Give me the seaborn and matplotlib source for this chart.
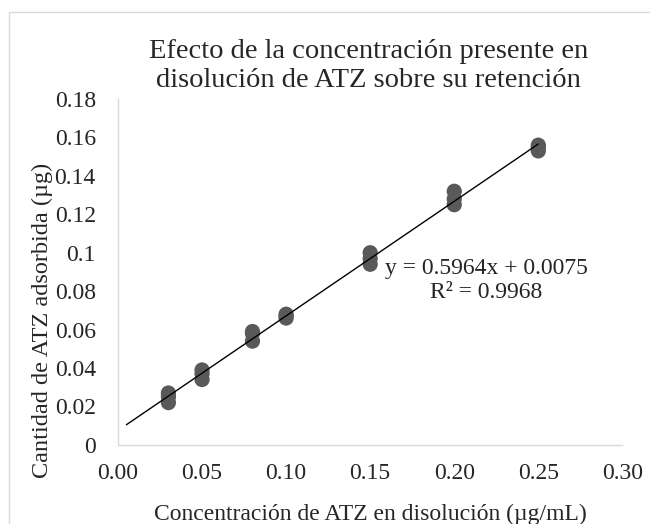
import matplotlib
matplotlib.use("Agg")
import matplotlib.pyplot as plt
import seaborn as sns
import numpy as np
import pandas as pd

# data
conc = [0.03, 0.03, 0.03, 0.05, 0.05, 0.05, 0.08, 0.08, 0.08,
        0.10, 0.10, 0.10, 0.15, 0.15, 0.15, 0.20, 0.20, 0.20,
        0.25, 0.25, 0.25]
adsorbed = [0.022, 0.025, 0.027, 0.034, 0.037, 0.039, 0.054, 0.058, 0.059,
            0.066, 0.067, 0.068, 0.094, 0.097, 0.100, 0.125, 0.128, 0.132,
            0.153, 0.155, 0.156]
slope = 0.5964
intercept = 0.0075
r2 = 0.9968
trend_x = [0.005, 0.25]

x_ticks = [0.00, 0.05, 0.10, 0.15, 0.20, 0.25, 0.30]
y_ticks = [0, 0.02, 0.04, 0.06, 0.08, 0.1, 0.12, 0.14, 0.16, 0.18]
y_tick_labels = ["0", "0.02", "0.04", "0.06", "0.08", "0.1", "0.12", "0.14", "0.16", "0.18"]

df = pd.DataFrame({"x": conc, "y": adsorbed})

sns.set_theme(style="white")
plt.rcParams["font.family"] = ["Liberation Serif", "DejaVu Serif"]

fig = plt.figure(figsize=(6.5, 5.24), dpi=100)
ax = fig.add_axes([0.1815, 0.151, 0.776, 0.66])

sns.scatterplot(data=df, x="x", y="y", ax=ax, s=120, color="#595959",
                edgecolor="none", zorder=3)

tx = np.array(trend_x)
ax.plot(tx, slope * tx + intercept, color="black", lw=1, zorder=4)

ax.text(0.219, 0.0855, f"y = {slope}x + {intercept}\nR² = {r2}",
        ha="center", va="center", fontsize=17, linespacing=1.15)

ax.set_xlim(0, 0.30)
ax.set_ylim(0, 0.18)
ax.set_xticks(x_ticks)
ax.set_xticklabels([f"{v:.2f}" for v in x_ticks])
ax.set_yticks(y_ticks)
ax.set_yticklabels(y_tick_labels)
ax.tick_params(axis="both", labelsize=17, length=0)
ax.tick_params(axis="x", pad=13)
ax.tick_params(axis="y", pad=16)

for side in ["top", "right"]:
    ax.spines[side].set_visible(False)
for side in ["left", "bottom"]:
    ax.spines[side].set_color("#d9d9d9")
    ax.spines[side].set_linewidth(1)

ax.set_xlabel("Concentración de ATZ en disolución (µg/mL)", fontsize=17)
ax.xaxis.set_label_coords(0.5, -0.17)
ax.set_ylabel("Cantidad de ATZ adsorbida (µg)", fontsize=17.5)
ax.yaxis.set_label_coords(-0.128, 0.361)

fig.text(0.567, 0.874, "Efecto de la concentración presente en\ndisolución de ATZ sobre su retención",
         ha="center", va="center", fontsize=20.5, linespacing=1.22)

fig.patches.append(plt.Rectangle((0.014, -0.01), 1.0, 0.987, transform=fig.transFigure,
                                 fill=False, edgecolor="#d9d9d9", lw=1))

fig.savefig("out.png", dpi=100)
